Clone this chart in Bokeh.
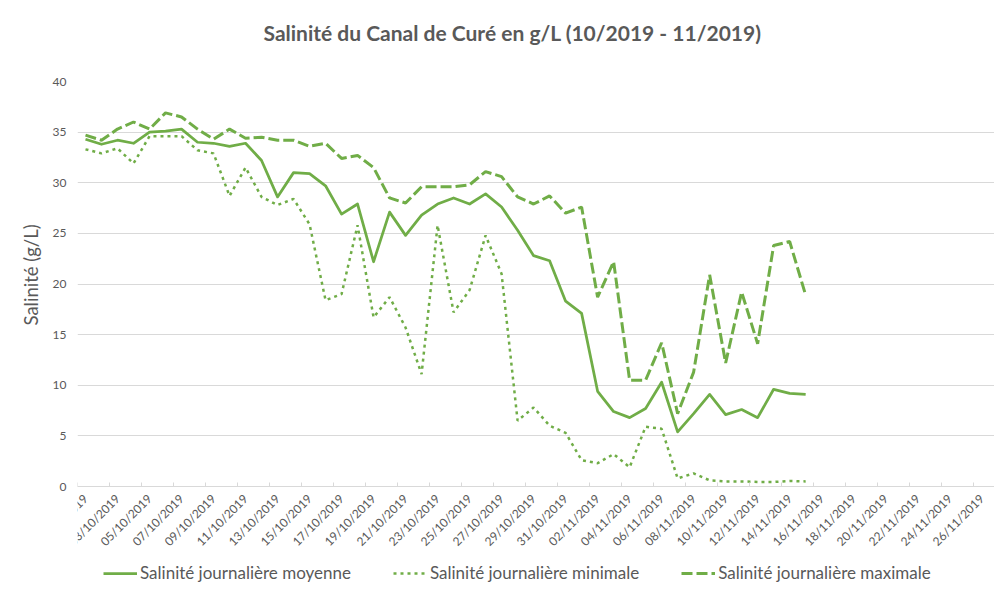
import math
from bokeh.plotting import figure
from bokeh.models import FixedTicker, Legend, LegendItem, Range1d, Title
from bokeh.embed import file_html
from bokeh.resources import INLINE

# ---- data ----
tick_labels = ["01/10/2019", "03/10/2019", "05/10/2019", "07/10/2019", "09/10/2019",
               "11/10/2019", "13/10/2019", "15/10/2019", "17/10/2019", "19/10/2019",
               "21/10/2019", "23/10/2019", "25/10/2019", "27/10/2019", "29/10/2019",
               "31/10/2019", "02/11/2019", "04/11/2019", "06/11/2019", "08/11/2019",
               "10/11/2019", "12/11/2019", "14/11/2019", "16/11/2019", "18/11/2019",
               "20/11/2019", "22/11/2019", "24/11/2019", "26/11/2019"]

sal_moyenne = [34.3, 33.8, 34.2, 33.9, 35.0, 35.1, 35.3, 34.0, 33.9, 33.6,
               33.9, 32.2, 28.6, 31.0, 30.9, 29.7, 26.9, 27.9, 22.2, 27.1,
               24.8, 26.8, 27.9, 28.5, 27.9, 28.9, 27.6, 25.3, 22.8, 22.3,
               18.3, 17.1, 9.4, 7.4, 6.8, 7.7, 10.3, 5.4, 7.2, 9.1,
               7.1, 7.6, 6.8, 9.6, 9.2, 9.1]

sal_minimale = [33.3, 32.9, 33.4, 31.9, 34.6, 34.6, 34.6, 33.2, 32.9, 28.7,
                31.5, 28.6, 27.8, 28.4, 25.9, 18.4, 19.0, 25.8, 16.7, 18.7,
                15.7, 11.1, 25.8, 17.2, 19.4, 24.8, 21.0, 6.5, 7.8, 6.0,
                5.3, 2.6, 2.3, 3.2, 1.9, 5.9, 5.7, 0.8, 1.3, 0.6,
                0.5, 0.5, 0.45, 0.45, 0.55, 0.5]

sal_maximale = [34.7, 34.2, 35.3, 36.0, 35.3, 36.9, 36.5, 35.3, 34.3, 35.3,
                34.4, 34.5, 34.2, 34.2, 33.6, 33.9, 32.4, 32.7, 31.5, 28.5,
                28.0, 29.6, 29.6, 29.6, 29.8, 31.1, 30.6, 28.6, 27.9, 28.7,
                27.0, 27.6, 18.7, 22.2, 10.5, 10.5, 14.2, 7.2, 11.3, 20.9,
                12.2, 19.2, 14.1, 23.8, 24.2, 18.9]

days = list(range(len(sal_moyenne)))

GREEN = "#70AD47"
GRAY_TXT = "#595959"
FONT = "Lato"

# frame runs to the bottom of the page; y=0 sits 104 px above it,
# the x axis is pinned at y=0 so that its labels and the legend fit below it
p = figure(frame_width=917, frame_height=509, output_backend="svg", toolbar_location=None,
           x_range=Range1d(-0.5, 56.8), y_range=Range1d(40 - 509 * 40 / 405, 40),
           min_border_left=77, min_border_top=81, min_border_bottom=0,
           min_border_right=0, outline_line_color=None)

p.title.text = "Salinité du Canal de Curé en g/L (10/2019 - 11/2019)\n"
p.title.align = "left"
p.title.offset = 186
p.title.text_font = FONT
p.title.text_font_size = "21px"
p.title.text_font_style = "bold"
p.title.text_color = GRAY_TXT
p.title.standoff = 23

# grid
p.xgrid.grid_line_color = None
p.ygrid.grid_line_color = "#d9d9d9"
p.ygrid.grid_line_width = 1

# y axis
p.yaxis.ticker = FixedTicker(ticks=[0, 5, 10, 15, 20, 25, 30, 35, 40])
p.yaxis.axis_line_color = None
p.yaxis.major_tick_line_color = None
p.yaxis.minor_tick_line_color = None
p.yaxis.major_label_text_font = FONT
p.yaxis.major_label_text_font_size = "12px"
p.yaxis.major_label_text_color = GRAY_TXT
p.yaxis.major_label_standoff = 5

ylabel = Title(text="Salinité (g/L)", align="left", offset=265,
               text_font=FONT, text_font_size="18.5px", text_font_style="normal",
               text_color=GRAY_TXT, standoff=16)
p.add_layout(ylabel, "left")

# x axis
major = [2 * i for i in range(len(tick_labels))]
minor = [2 * i - 0.5 for i in range(len(tick_labels))]
p.xaxis.fixed_location = 0
p.xaxis.ticker = FixedTicker(ticks=major, minor_ticks=minor)
p.xaxis.major_label_overrides = {m: lab for m, lab in zip(major, tick_labels)}
p.xaxis.major_label_orientation = math.pi / 4
p.xaxis.major_label_text_font = FONT
p.xaxis.major_label_text_font_size = "12px"
p.xaxis.major_label_text_color = GRAY_TXT
p.xaxis.major_label_standoff = 4
p.xaxis.axis_line_color = "#d9d9d9"
p.xaxis.major_tick_line_color = None
p.xaxis.minor_tick_line_color = "#d9d9d9"
p.xaxis.minor_tick_in = 4
p.xaxis.minor_tick_out = 0

r_moy = p.line(days, sal_moyenne, line_color=GREEN, line_width=2.75, line_join="round")
r_min = p.line(days, sal_minimale, line_color=GREEN, line_width=2.5, line_dash="3 4")
r_max = p.line(days, sal_maximale, line_color=GREEN, line_width=3, line_dash="11 4")

legend = Legend(items=[LegendItem(label="Salinité journalière moyenne", renderers=[r_moy]),
                       LegendItem(label="Salinité journalière minimale", renderers=[r_min]),
                       LegendItem(label="Salinité journalière maximale", renderers=[r_max])],
                orientation="horizontal", location=(26, 7),
                border_line_color=None, background_fill_alpha=0,
                glyph_width=34, label_standoff=3, spacing=42, padding=0, margin=0,
                label_text_font=FONT, label_text_font_size="17px",
                label_text_color=GRAY_TXT)
p.add_layout(legend, "center")

open("out.html", "w").write(file_html(p, INLINE))
